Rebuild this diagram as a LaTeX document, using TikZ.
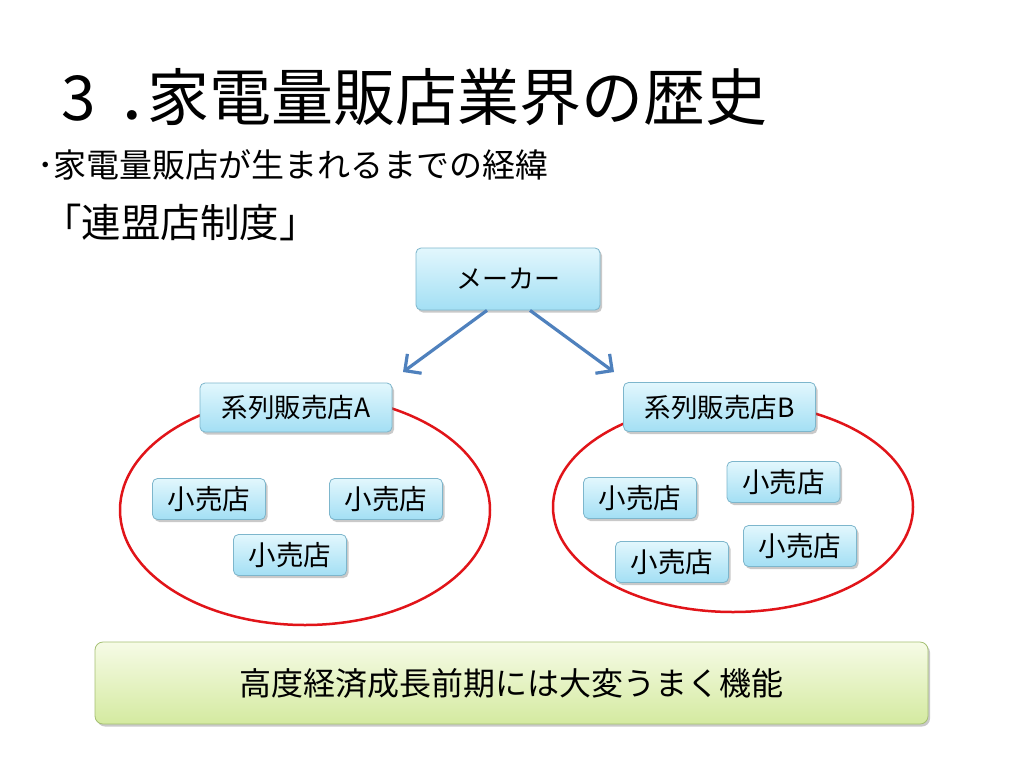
\documentclass[tikz,border=0pt]{standalone}
\usepackage{fontspec}
\setmainfont{Noto Sans CJK JP}
\usetikzlibrary{shapes.geometric,shadows,arrows.meta}
\definecolor{boxtop}{RGB}{226,247,253}
\definecolor{boxbot}{RGB}{163,223,244}
\definecolor{boxline}{RGB}{125,182,204}
\definecolor{greentop}{RGB}{246,251,230}
\definecolor{greenbot}{RGB}{212,234,160}
\definecolor{greenline}{RGB}{165,192,115}
\definecolor{arrowblue}{RGB}{79,129,189}
\definecolor{ringred}{RGB}{225,20,25}
\tikzset{
  bluebox/.style={draw=boxline, line width=0.8pt, rounded corners=5pt,
    top color=boxtop, bottom color=boxbot, inner sep=0pt,
    drop shadow={shadow xshift=2pt, shadow yshift=-2.5pt, opacity=0.35, fill=black!60},
    font=\fontsize{26}{30}\selectfont},
  shopbox/.style={bluebox, minimum width=113pt, minimum height=41pt, font=\fontsize{27.5}{31}\selectfont},
  seriesbox/.style={bluebox, minimum width=192pt, minimum height=49pt, font=\fontsize{26.5}{30}\selectfont},
  greenbox/.style={draw=greenline, line width=0.8pt, rounded corners=8pt,
    top color=greentop, bottom color=greenbot, inner sep=0pt,
    drop shadow={shadow xshift=2pt, shadow yshift=-2.5pt, opacity=0.35, fill=black!60},
    minimum width=833pt, minimum height=82pt, font=\fontsize{32}{36}\selectfont},
  ring/.style={ellipse, draw=ringred, line width=2.5pt, inner sep=0pt},
  arr/.style={draw=arrowblue, line width=3.2pt, -{Straight Barb[length=12pt,width=24pt]}},
  txt/.style={inner sep=0pt, anchor=base west}
}
\begin{document}
\begin{tikzpicture}[x=1pt,y=-1pt]
\useasboundingbox[fill=white] (0,0) rectangle (1024,768);
% titles
\node[txt, font=\fontsize{62}{70}\selectfont] (title) at (61,120) {3\kern22pt．\kern-32pt家電量販店業界の歴史};
\node[txt, font=\fontsize{33}{37}\selectfont] (sub) at (37,177) {･家電量販店が生まれるまでの経緯};
\node[txt, font=\fontsize{39.5}{44}\selectfont] (sys) at (42,237) {「連盟店制度」};
% rings
\node[ring, minimum width=370pt, minimum height=230pt] (ringA) at (305,510) {};
\node[ring, minimum width=360pt, minimum height=210pt] (ringB) at (733,507) {};
% maker
\node[bluebox, minimum width=184pt, minimum height=62pt] (maker) at (508,279) {メーカー};
\coordinate (tipA) at (403,372);
\coordinate (tipB) at (614,372);
\draw[arr] ([xshift=-21pt]maker.south) -- (tipA);
\draw[arr] ([xshift=22pt]maker.south) -- (tipB);
% series stores
\node[seriesbox] (serA) at (296,407.5) {系列販売店A};
\node[seriesbox] (serB) at (719.5,407) {系列販売店B};
% shops A
\node[shopbox] (a1) at (209,499) {小売店};
\node[shopbox] (a2) at (386,499) {小売店};
\node[shopbox] (a3) at (290,555) {小売店};
% shops B
\node[shopbox] (b1) at (640,498) {小売店};
\node[shopbox] (b2) at (783.5,482) {小売店};
\node[shopbox] (b3) at (672,562) {小売店};
\node[shopbox] (b4) at (800,546) {小売店};
% bottom
\node[greenbox] (result) at (511.5,683) {高度経済成長前期には大変うまく機能};
\end{tikzpicture}
\end{document}
